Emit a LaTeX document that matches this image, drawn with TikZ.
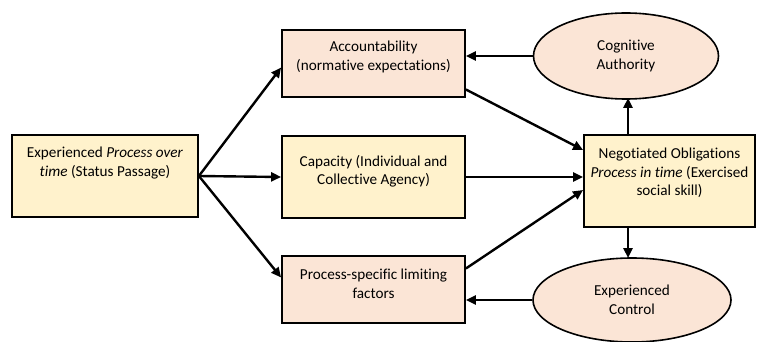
\documentclass[tikz,border=0pt]{standalone}
\usepackage{fontspec}
\setmainfont{Carlito}[Ligatures=NoCommon]
\usetikzlibrary{arrows.meta,shapes.geometric}
\definecolor{boxyellow}{HTML}{FFF2CC}
\definecolor{boxpink}{HTML}{FBE5D6}
\begin{document}
\begin{tikzpicture}[x=1pt,y=-1pt,
  font=\fontsize{15.2}{18.5}\selectfont,
  box/.style={draw,line width=1.8pt,rectangle,inner sep=0pt},
  blob/.style={draw,line width=1.6pt,ellipse,inner sep=0pt,fill=boxpink},
  txt/.style={align=center,inner sep=0pt},
  link/.style={line width=2.4pt,-{Triangle[length=10pt,width=9pt]}}]
  \useasboundingbox (0,0) rectangle (758,342);

  % boxes
  \node[box,fill=boxyellow,minimum width=186,minimum height=82] (exp) at (105,176) {};
  \node[txt] at (105,163) {Experienced \textit{Process over}\\\textit{time} (Status Passage)};

  \node[box,fill=boxpink,minimum width=183,minimum height=67] (acc) at (373.5,63.5) {};
  \node[txt] at (373.5,57) {Accountability\\(normative expectations)};

  \node[box,fill=boxyellow,minimum width=183,minimum height=82] (cap) at (373.5,177) {};
  \node[txt] at (373.5,171.5) {Capacity (Individual and\\Collective Agency)};

  \node[box,fill=boxpink,minimum width=183,minimum height=67] (proc) at (373.5,289.5) {};
  \node[txt] at (373.5,284) {Process-specific limiting\\factors};

  \node[box,fill=boxyellow,minimum width=171,minimum height=92] (neg) at (669.5,181) {};
  \node[txt] at (669.5,173) {Negotiated Obligations\\\textit{Process in time} (Exercised\\social skill)};

  % ellipses
  \node[blob,minimum width=185,minimum height=86] (cog) at (626,56) {};
  \node[txt] at (626,56) {Cognitive\\Authority};

  \node[blob,minimum width=198,minimum height=84] (ctrl) at (632,300) {};
  \node[txt] at (632,300) {Experienced\\Control};

  % arrows
  \draw[link] (exp.east) -- ([yshift=-4pt]acc.west);
  \draw[link] (exp.east) -- (cap.west);
  \draw[link] (exp.east) -- ([yshift=12pt]proc.west);

  \draw[link] ([yshift=-26pt]acc.east) -- ([yshift=31pt]neg.west);
  \draw[link] (cap.east) -- (cap.east -| neg.west);
  \draw[link] ([yshift=21pt]proc.east) -- ([yshift=-9pt]neg.west);

  \draw[link] (neg.north -| 628,0) -- (628,98);
  \draw[link] (neg.south -| 628,0) -- (628,258);

  \draw[link] (cog.west) -- (cog.west -| acc.east);
  \draw[link] (ctrl.west) -- (ctrl.west -| proc.east);
\end{tikzpicture}
\end{document}
